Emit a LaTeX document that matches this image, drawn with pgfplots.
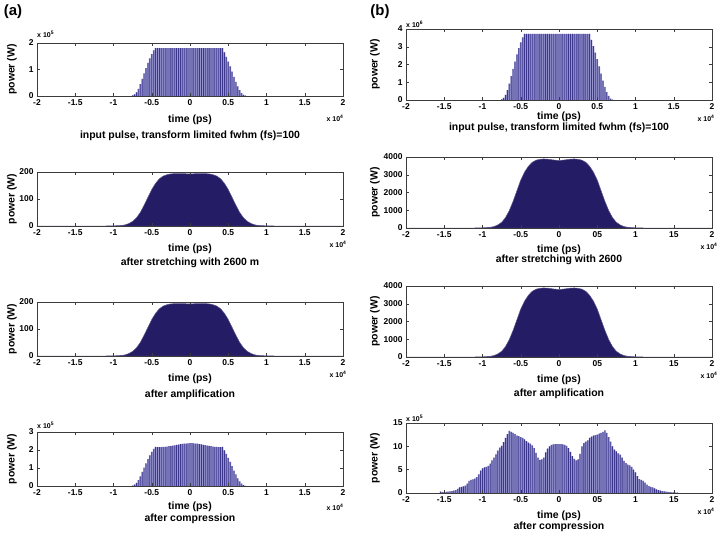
\documentclass[border=0pt]{standalone}
\usepackage{fontspec}
\setmainfont{Liberation Sans}
\usepackage{pgfplots}
\pgfplotsset{compat=1.18}
\usepackage{pgfplotstable}

\definecolor{barlight}{RGB}{150,147,206}
\definecolor{barfill}{RGB}{60,54,140}
\definecolor{baredge}{RGB}{42,34,112}
\definecolor{areafill}{RGB}{36,28,100}
\definecolor{frame}{RGB}{60,60,60}

% input pulse (a), power in units of 1e5 W, time in units of 1e4 ps
\pgfplotstableread{
x y
-0.750 0.02
-0.725 0.06
-0.700 0.14
-0.675 0.27
-0.650 0.45
-0.625 0.65
-0.600 0.85
-0.575 1.05
-0.550 1.25
-0.525 1.42
-0.500 1.58
-0.475 1.72
-0.450 1.81
-0.425 1.81
-0.400 1.81
-0.375 1.81
-0.350 1.81
-0.325 1.81
-0.300 1.81
-0.275 1.81
-0.250 1.81
-0.225 1.81
-0.200 1.81
-0.175 1.81
-0.150 1.81
-0.125 1.81
-0.100 1.81
-0.075 1.81
-0.050 1.81
-0.025 1.81
0.000 1.81
0.025 1.81
0.050 1.81
0.075 1.81
0.100 1.81
0.125 1.81
0.150 1.81
0.175 1.81
0.200 1.81
0.225 1.81
0.250 1.81
0.275 1.81
0.300 1.81
0.325 1.81
0.350 1.81
0.375 1.81
0.400 1.81
0.425 1.81
0.450 1.65
0.475 1.48
0.500 1.30
0.525 1.12
0.550 0.92
0.575 0.72
0.600 0.53
0.625 0.36
0.650 0.22
0.675 0.11
0.700 0.04
0.725 0.01
}\tabInA

% input pulse (b), power in units of 1e6 W
\pgfplotstableread{
x y
-0.750 0.04
-0.725 0.12
-0.700 0.29
-0.675 0.55
-0.650 0.92
-0.625 1.34
-0.600 1.75
-0.575 2.16
-0.550 2.57
-0.525 2.92
-0.500 3.25
-0.475 3.53
-0.450 3.72
-0.425 3.72
-0.400 3.72
-0.375 3.72
-0.350 3.72
-0.325 3.72
-0.300 3.72
-0.275 3.72
-0.250 3.72
-0.225 3.72
-0.200 3.72
-0.175 3.72
-0.150 3.72
-0.125 3.72
-0.100 3.72
-0.075 3.72
-0.050 3.72
-0.025 3.72
0.000 3.72
0.025 3.72
0.050 3.72
0.075 3.72
0.100 3.72
0.125 3.72
0.150 3.72
0.175 3.72
0.200 3.72
0.225 3.72
0.250 3.72
0.275 3.72
0.300 3.72
0.325 3.72
0.350 3.72
0.375 3.72
0.400 3.72
0.425 3.39
0.450 3.04
0.475 2.67
0.500 2.30
0.525 1.89
0.550 1.48
0.575 1.09
0.600 0.74
0.625 0.45
0.650 0.23
0.675 0.08
0.700 0.02
}\tabInB

% stretched / amplified (a), W
\pgfplotstableread{
x y
-2.00 0
-1.10 0
-1.00 0.5
-0.90 2
-0.85 4
-0.80 9
-0.75 17
-0.70 30
-0.65 50
-0.60 77
-0.55 106
-0.50 135
-0.45 158
-0.40 175
-0.35 185
-0.30 190
-0.25 193
-0.20 194
-0.10 194
0.00 193
0.10 194
0.20 194
0.25 193
0.30 190
0.35 185
0.40 175
0.45 158
0.50 135
0.55 106
0.60 77
0.65 50
0.70 30
0.75 17
0.80 9
0.85 4
0.90 2
1.00 0.5
1.10 0
2.00 0
}\tabStrA

% stretched / amplified (b), W
\pgfplotstableread{
x y
-2.00 0
-1.10 0
-1.00 10
-0.90 40
-0.85 80
-0.80 170
-0.75 320
-0.70 580
-0.65 980
-0.60 1500
-0.55 2100
-0.50 2700
-0.45 3150
-0.40 3480
-0.35 3700
-0.30 3820
-0.25 3870
-0.20 3890
-0.15 3880
-0.10 3850
-0.05 3820
0.00 3810
0.05 3820
0.10 3850
0.15 3880
0.20 3890
0.25 3870
0.30 3820
0.35 3700
0.40 3480
0.45 3150
0.50 2700
0.55 2100
0.60 1500
0.65 980
0.70 580
0.75 320
0.80 170
0.85 80
0.90 40
1.00 10
1.10 0
2.00 0
}\tabStrB

% compressed (a), units of 1e5 W
\pgfplotstableread{
x y
-0.750 0.02
-0.725 0.07
-0.700 0.17
-0.675 0.32
-0.650 0.54
-0.625 0.78
-0.600 1.02
-0.575 1.26
-0.550 1.50
-0.525 1.70
-0.500 1.90
-0.475 2.06
-0.450 2.17
-0.425 2.16
-0.400 2.16
-0.375 2.16
-0.350 2.17
-0.325 2.18
-0.300 2.19
-0.275 2.21
-0.250 2.22
-0.225 2.24
-0.200 2.26
-0.175 2.28
-0.150 2.30
-0.125 2.32
-0.100 2.34
-0.075 2.35
-0.050 2.36
-0.025 2.37
0.000 2.38
0.025 2.38
0.050 2.37
0.075 2.36
0.100 2.35
0.125 2.33
0.150 2.31
0.175 2.29
0.200 2.27
0.225 2.25
0.250 2.23
0.275 2.21
0.300 2.19
0.325 2.18
0.350 2.17
0.375 2.16
0.400 2.16
0.425 2.17
0.450 1.98
0.475 1.78
0.500 1.56
0.525 1.34
0.550 1.10
0.575 0.86
0.600 0.64
0.625 0.43
0.650 0.26
0.675 0.13
0.700 0.05
0.725 0.01
}\tabCompA

% compressed (b), units of 1e5 W
\pgfplotstableread{
x y
-1.550 0.3
-1.525 0.2
-1.500 0.2
-1.475 0.25
-1.450 0.3
-1.425 0.35
-1.400 0.4
-1.375 0.5
-1.350 0.6
-1.325 0.9
-1.300 1.2
-1.275 1.3
-1.250 1.4
-1.225 1.6
-1.200 2.0
-1.175 2.6
-1.150 2.8
-1.125 2.9
-1.100 3.1
-1.075 3.4
-1.050 4.0
-1.025 4.8
-1.000 5.3
-0.975 5.5
-0.950 5.6
-0.925 5.8
-0.900 6.3
-0.875 7.0
-0.850 7.6
-0.825 8.3
-0.800 9.1
-0.775 9.7
-0.750 10.1
-0.725 10.9
-0.700 11.8
-0.675 12.6
-0.650 13.3
-0.625 13.1
-0.600 12.9
-0.575 12.6
-0.550 12.3
-0.525 12.2
-0.500 12.0
-0.475 11.8
-0.450 11.5
-0.425 11.1
-0.400 10.8
-0.375 10.6
-0.350 10.2
-0.325 9.6
-0.300 8.6
-0.275 7.6
-0.250 7.1
-0.225 7.2
-0.200 7.6
-0.175 8.7
-0.150 9.5
-0.125 10.0
-0.100 10.3
-0.075 10.4
-0.050 10.5
-0.025 10.5
0.000 10.5
0.025 10.5
0.050 10.4
0.075 10.3
0.100 10.1
0.125 9.6
0.150 8.8
0.175 7.9
0.200 7.3
0.225 7.0
0.250 7.2
0.275 8.4
0.300 10.0
0.325 10.7
0.350 11.0
0.375 11.3
0.400 11.8
0.425 12.1
0.450 12.3
0.475 12.4
0.500 12.5
0.525 12.7
0.550 12.9
0.575 13.1
0.600 13.4
0.625 12.9
0.650 12.0
0.675 11.0
0.700 10.0
0.725 9.3
0.750 8.9
0.775 8.5
0.800 8.2
0.825 7.6
0.850 6.9
0.875 6.4
0.900 6.1
0.925 5.9
0.950 5.6
0.975 5.0
1.000 4.4
1.025 3.6
1.050 3.0
1.075 2.8
1.100 2.6
1.125 2.2
1.150 1.8
1.175 1.5
1.200 1.3
1.225 1.2
1.250 1.0
1.275 0.8
1.300 0.6
1.325 0.5
1.350 0.4
1.375 0.35
1.400 0.3
1.425 0.25
1.450 0.2
1.475 0.15
1.500 0.12
1.525 0.1
1.550 0.1
}\tabCompB

\pgfplotsset{
  panel/.style={scale only axis, width=306bp, xmin=-2, xmax=2, ymin=0, clip=false,
    xtick={-2,-1.5,-1,-0.5,0,0.5,1,1.5,2},
    xticklabels={-2,-1.5,-1,-0.5,0,0.5,1,1.5,2},
    tick align=inside, major tick length=3bp,
    axis line style={frame, line width=0.6bp},
    tick style={frame, line width=0.5bp},
    ticklabel style={font=\bfseries\fontsize{8.5}{9}\selectfont},
    xticklabel style={yshift=-0.5bp},
    /pgf/number format/assume math mode=true,
    scaled ticks=false, axis on top, anchor=north west},
  R/.style={xticklabels={-2,-1.5,-1,-0.5,0,05,1,15,2}},
  barsL/.style={ybar, bar shift=0pt, bar width=0.022, fill=barlight, draw=none},
  bars/.style={ybar, bar shift=0pt, bar width=0.010, fill=barfill, draw=none},
  area/.style={fill=areafill, draw=areafill!75!white, line width=0.5bp},
  base/.style={baredge, line width=0.7bp},
}
\tikzset{
  lbl/.style={font=\bfseries\fontsize{10.5}{12}\selectfont, inner sep=0pt},
  sm/.style={font=\bfseries\fontsize{7}{8}\selectfont, inner sep=0pt},
}
\newcommand{\xten}{x 10\textsuperscript{4}}

\begin{document}
\begin{tikzpicture}
\useasboundingbox (0,0) rectangle (723bp,-533bp);
\node[font=\bfseries\fontsize{15}{17}\selectfont, anchor=center] at (13bp,-12bp) {(a)};
\node[font=\bfseries\fontsize{15}{17}\selectfont, anchor=center] at (380bp,-12bp) {(b)};

% ---------- (a) row 1
\begin{axis}[panel, at={(37bp,-43bp)}, height=53bp, ymax=2, ytick={0,1,2}, yticklabels={0,1,2}]
\addplot[barsL] table[x=x,y=y] {\tabInA};
\addplot[bars] table[x=x,y=y] {\tabInA};
\addplot[base] coordinates {(-2,0) (2,0)};
\node[lbl, xshift=-25bp, rotate=90] at (rel axis cs:0,0.5) {power (W)};
\node[lbl, yshift=-24bp] at (rel axis cs:0.5,0) {time (ps)};
\node[lbl, yshift=-40bp] at (rel axis cs:0.5,0) {input pulse, transform limited fwhm (fs)=100};
\node[sm, xshift=-8bp, yshift=-22bp] at (rel axis cs:1,0) {\xten};
\node[sm, anchor=west, yshift=9bp] at (rel axis cs:0,1) {x 10\textsuperscript{5}};
\end{axis}

% ---------- (a) row 2
\begin{axis}[panel, at={(37bp,-172bp)}, height=54bp, ymax=200, ytick={0,100,200}, yticklabels={0,100,200}]
\addplot[area] table[x=x,y=y] {\tabStrA} \closedcycle;
\node[lbl, xshift=-25bp, rotate=90] at (rel axis cs:0,0.5) {power (W)};
\node[lbl, yshift=-23bp] at (rel axis cs:0.5,0) {time (ps)};
\node[lbl, yshift=-37bp] at (rel axis cs:0.5,0) {after stretching with 2600 m};
\node[sm, xshift=-5bp, yshift=-18bp] at (rel axis cs:1,0) {\xten};
\end{axis}

% ---------- (a) row 3
\begin{axis}[panel, at={(37bp,-302bp)}, height=54bp, ymax=200, ytick={0,100,200}, yticklabels={0,100,200}]
\addplot[area] table[x=x,y=y] {\tabStrA} \closedcycle;
\node[lbl, xshift=-25bp, rotate=90] at (rel axis cs:0,0.5) {power (W)};
\node[lbl, yshift=-23bp] at (rel axis cs:0.5,0) {time (ps)};
\node[lbl, yshift=-39bp] at (rel axis cs:0.5,0) {after amplification};
\node[sm, xshift=-5bp, yshift=-18bp] at (rel axis cs:1,0) {\xten};
\end{axis}

% ---------- (a) row 4
\begin{axis}[panel, at={(37bp,-432bp)}, height=54bp, ymax=3, ytick={0,1,2,3}, yticklabels={0,1,2,3}]
\addplot[barsL] table[x=x,y=y] {\tabCompA};
\addplot[bars] table[x=x,y=y] {\tabCompA};
\addplot[base] coordinates {(-2,0) (2,0)};
\node[lbl, xshift=-25bp, rotate=90] at (rel axis cs:0,0.5) {power (W)};
\node[lbl, yshift=-21bp] at (rel axis cs:0.5,0) {time (ps)};
\node[lbl, yshift=-33bp] at (rel axis cs:0.5,0) {after compression};
\node[sm, xshift=-8bp, yshift=-21bp] at (rel axis cs:1,0) {\xten};
\node[sm, anchor=west, yshift=7bp] at (rel axis cs:0,1) {x 10\textsuperscript{5}};
\end{axis}

% ---------- (b) row 1
\begin{axis}[panel, at={(406bp,-29bp)}, height=71bp, ymax=4, ytick={0,1,2,3,4}, yticklabels={0,1,2,3,4}]
\addplot[barsL] table[x=x,y=y] {\tabInB};
\addplot[bars] table[x=x,y=y] {\tabInB};
\addplot[base] coordinates {(-2,0) (2,0)};
\node[lbl, xshift=-31bp, rotate=90] at (rel axis cs:0,0.5) {power (W)};
\node[lbl, yshift=-17bp] at (rel axis cs:0.5,0) {time (ps)};
\node[lbl, yshift=-28bp] at (rel axis cs:0.5,0) {input pulse, transform limited fwhm (fs)=100};
\node[sm, xshift=-6bp, yshift=-18bp] at (rel axis cs:1,0) {\xten};
\node[sm, anchor=west, yshift=5bp] at (rel axis cs:0,1) {x 10\textsuperscript{6}};
\end{axis}

% ---------- (b) row 2
\begin{axis}[panel, R, at={(406bp,-157bp)}, height=71bp, ymax=4000, ytick={0,1000,2000,3000,4000}, yticklabels={0,1000,2000,3000,4000}]
\addplot[area] table[x=x,y=y] {\tabStrB} \closedcycle;
\node[lbl, xshift=-31bp, rotate=90] at (rel axis cs:0,0.5) {power (W)};
\node[lbl, yshift=-22bp] at (rel axis cs:0.5,0) {time (ps)};
\node[lbl, yshift=-32bp] at (rel axis cs:0.5,0) {after stretching with 2600};
\node[sm, xshift=-3bp, yshift=-18bp] at (rel axis cs:1,0) {\xten};
\end{axis}

% ---------- (b) row 3
\begin{axis}[panel, R, at={(406bp,-286bp)}, height=71bp, ymax=4000, ytick={0,1000,2000,3000,4000}, yticklabels={0,1000,2000,3000,4000}]
\addplot[area] table[x=x,y=y] {\tabStrB} \closedcycle;
\node[lbl, xshift=-31bp, rotate=90] at (rel axis cs:0,0.5) {power (W)};
\node[lbl, yshift=-23bp] at (rel axis cs:0.5,0) {time (ps)};
\node[lbl, yshift=-37bp] at (rel axis cs:0.5,0) {after amplification};
\node[sm, xshift=-3bp, yshift=-18bp] at (rel axis cs:1,0) {\xten};
\end{axis}

% ---------- (b) row 4
\begin{axis}[panel, R, at={(406bp,-423bp)}, height=70bp, ymax=15, ytick={0,5,10,15}, yticklabels={0,5,10,15}]
\addplot[barsL] table[x=x,y=y] {\tabCompB};
\addplot[bars] table[x=x,y=y] {\tabCompB};
\addplot[base] coordinates {(-2,0) (2,0)};
\node[lbl, xshift=-31bp, rotate=90] at (rel axis cs:0,0.5) {power (W)};
\node[lbl, yshift=-23bp] at (rel axis cs:0.5,0) {time (ps)};
\node[lbl, yshift=-34bp] at (rel axis cs:0.5,0) {after compression};
\node[sm, xshift=-6bp, yshift=-18bp] at (rel axis cs:1,0) {\xten};
\node[sm, anchor=west, yshift=5bp] at (rel axis cs:0,1) {x 10\textsuperscript{5}};
\end{axis}
\end{tikzpicture}
\end{document}
